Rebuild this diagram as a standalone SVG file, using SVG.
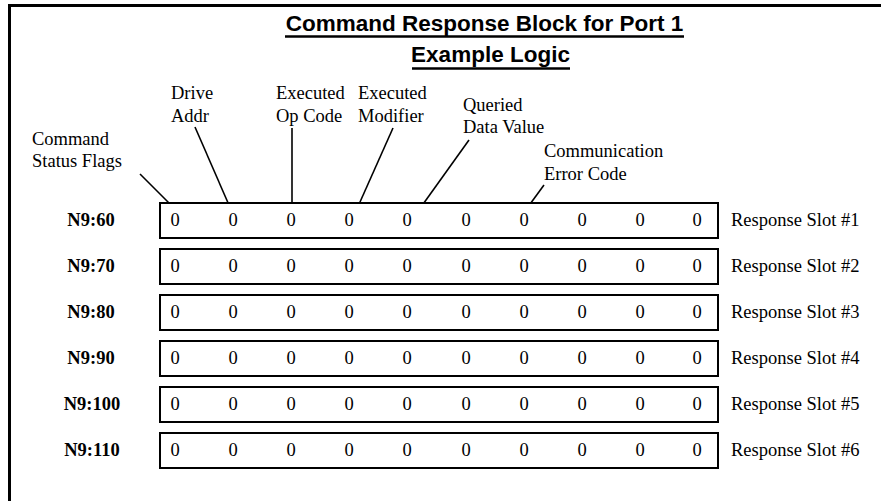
<svg xmlns="http://www.w3.org/2000/svg" width="881" height="501" viewBox="0 0 881 501">
<style>
.t{font-family:"Liberation Serif","Times New Roman",serif;font-size:18.5px;fill:#000}
.lb{font-family:"Liberation Serif","Times New Roman",serif;font-size:18.5px;font-weight:bold;fill:#000;text-anchor:middle}
.d{font-family:"Liberation Serif","Times New Roman",serif;font-size:18.5px;fill:#000;text-anchor:middle}
.title{font-family:"Liberation Sans",Arial,sans-serif;font-size:22.5px;font-weight:bold;fill:#000;text-anchor:middle}
.box{fill:#fff;stroke:#000;stroke-width:2}
.c{stroke:#000;stroke-width:1.6;fill:none}
.frame{stroke:#000;stroke-width:3;fill:none}
</style>
<rect width="881" height="501" fill="#fff"/>
<g id="frame">
<path class="frame" d="M9.5,501 V5.5 H881"/>
</g>
<g id="title">
<text class="title" x="484.5" y="31">Command Response Block for Port 1</text>
<line x1="285" y1="36.5" x2="684" y2="36.5" stroke="#000" stroke-width="2.5"/>
<text class="title" x="490.5" y="62">Example Logic</text>
<line x1="412" y1="68.5" x2="570" y2="68.5" stroke="#000" stroke-width="2.5"/>
</g>
<g id="callout-labels">
<text class="t" x="32" y="145">Command</text>
<text class="t" x="32" y="167">Status Flags</text>
<text class="t" x="171" y="99">Drive</text>
<text class="t" x="171" y="122">Addr</text>
<text class="t" x="276" y="99">Executed</text>
<text class="t" x="276" y="122">Op Code</text>
<text class="t" x="358" y="99">Executed</text>
<text class="t" x="358" y="122">Modifier</text>
<text class="t" x="463" y="111">Queried</text>
<text class="t" x="463" y="133">Data Value</text>
<text class="t" x="544" y="157">Communication</text>
<text class="t" x="544" y="180">Error Code</text>
</g>
<g id="connectors">
<line class="c" x1="140" y1="174" x2="176" y2="210"/>
<line class="c" x1="195" y1="127" x2="232" y2="212"/>
<line class="c" x1="292" y1="128" x2="292" y2="209"/>
<line class="c" x1="393" y1="128" x2="356" y2="211"/>
<line class="c" x1="469" y1="140" x2="416" y2="214"/>
<line class="c" x1="544" y1="185" x2="525" y2="211"/>
</g>
<g id="row1">
<rect class="box" x="160" y="203" width="558" height="35"/>
<text class="lb" x="91" y="226">N9:60</text>
<text class="d" y="226"><tspan x="175">0</tspan><tspan x="233">0</tspan><tspan x="291">0</tspan><tspan x="349">0</tspan><tspan x="407">0</tspan><tspan x="466">0</tspan><tspan x="524">0</tspan><tspan x="582">0</tspan><tspan x="640">0</tspan><tspan x="697">0</tspan></text>
<text class="t" x="731" y="226">Response Slot #1</text>
</g>
<g id="row2">
<rect class="box" x="160" y="249" width="558" height="35"/>
<text class="lb" x="91" y="272">N9:70</text>
<text class="d" y="272"><tspan x="175">0</tspan><tspan x="233">0</tspan><tspan x="291">0</tspan><tspan x="349">0</tspan><tspan x="407">0</tspan><tspan x="466">0</tspan><tspan x="524">0</tspan><tspan x="582">0</tspan><tspan x="640">0</tspan><tspan x="697">0</tspan></text>
<text class="t" x="731" y="272">Response Slot #2</text>
</g>
<g id="row3">
<rect class="box" x="160" y="295" width="558" height="35"/>
<text class="lb" x="91" y="318">N9:80</text>
<text class="d" y="318"><tspan x="175">0</tspan><tspan x="233">0</tspan><tspan x="291">0</tspan><tspan x="349">0</tspan><tspan x="407">0</tspan><tspan x="466">0</tspan><tspan x="524">0</tspan><tspan x="582">0</tspan><tspan x="640">0</tspan><tspan x="697">0</tspan></text>
<text class="t" x="731" y="318">Response Slot #3</text>
</g>
<g id="row4">
<rect class="box" x="160" y="341" width="558" height="35"/>
<text class="lb" x="91" y="364">N9:90</text>
<text class="d" y="364"><tspan x="175">0</tspan><tspan x="233">0</tspan><tspan x="291">0</tspan><tspan x="349">0</tspan><tspan x="407">0</tspan><tspan x="466">0</tspan><tspan x="524">0</tspan><tspan x="582">0</tspan><tspan x="640">0</tspan><tspan x="697">0</tspan></text>
<text class="t" x="731" y="364">Response Slot #4</text>
</g>
<g id="row5">
<rect class="box" x="160" y="387" width="558" height="35"/>
<text class="lb" x="92" y="410">N9:100</text>
<text class="d" y="410"><tspan x="175">0</tspan><tspan x="233">0</tspan><tspan x="291">0</tspan><tspan x="349">0</tspan><tspan x="407">0</tspan><tspan x="466">0</tspan><tspan x="524">0</tspan><tspan x="582">0</tspan><tspan x="640">0</tspan><tspan x="697">0</tspan></text>
<text class="t" x="731" y="410">Response Slot #5</text>
</g>
<g id="row6">
<rect class="box" x="160" y="433" width="558" height="35"/>
<text class="lb" x="92" y="456">N9:110</text>
<text class="d" y="456"><tspan x="175">0</tspan><tspan x="233">0</tspan><tspan x="291">0</tspan><tspan x="349">0</tspan><tspan x="407">0</tspan><tspan x="466">0</tspan><tspan x="524">0</tspan><tspan x="582">0</tspan><tspan x="640">0</tspan><tspan x="697">0</tspan></text>
<text class="t" x="731" y="456">Response Slot #6</text>
</g>
</svg>
